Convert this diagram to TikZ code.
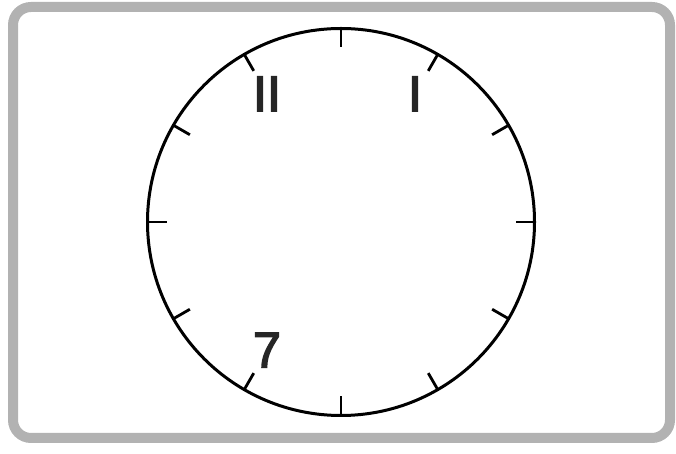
\documentclass[tikz,border=0pt]{standalone}
\usepackage{fontspec}
\setmainfont{Liberation Sans}
\newfontfamily\numfont{Liberation Sans}[FakeBold=3]
\usetikzlibrary{calc}
\tikzset{
  frame/.style={draw=gray!60,line width=10pt,rounded corners=18pt},
  dial/.style={circle,draw,line width=3pt,minimum size=387pt,inner sep=0pt,outer sep=0pt},
  tick/.style={line width=2.8pt},
  numeral/.style={inner sep=0pt,text=black!85,font=\fontsize{50}{50}\numfont}
}
\begin{document}
\begin{tikzpicture}[x=1pt,y=1pt]
\useasboundingbox (0,0) rectangle (676,454);
\draw[frame] (13,16) rectangle (670,447);
\coordinate (o) at (341,232);
\node[dial] (dial) at (o) {};
\foreach \a in {0,30,...,330}
{
\draw[tick] (dial.\a) -- ($(dial.\a)!19pt!(o)$);
}
\foreach \a/\txt/\name in {120/II/eleven,60/I/one,240/7/seven}
{
\node[numeral] (\name) at ($(o)+(\a:148)$) {\txt};
}
\end{tikzpicture}
\end{document}
